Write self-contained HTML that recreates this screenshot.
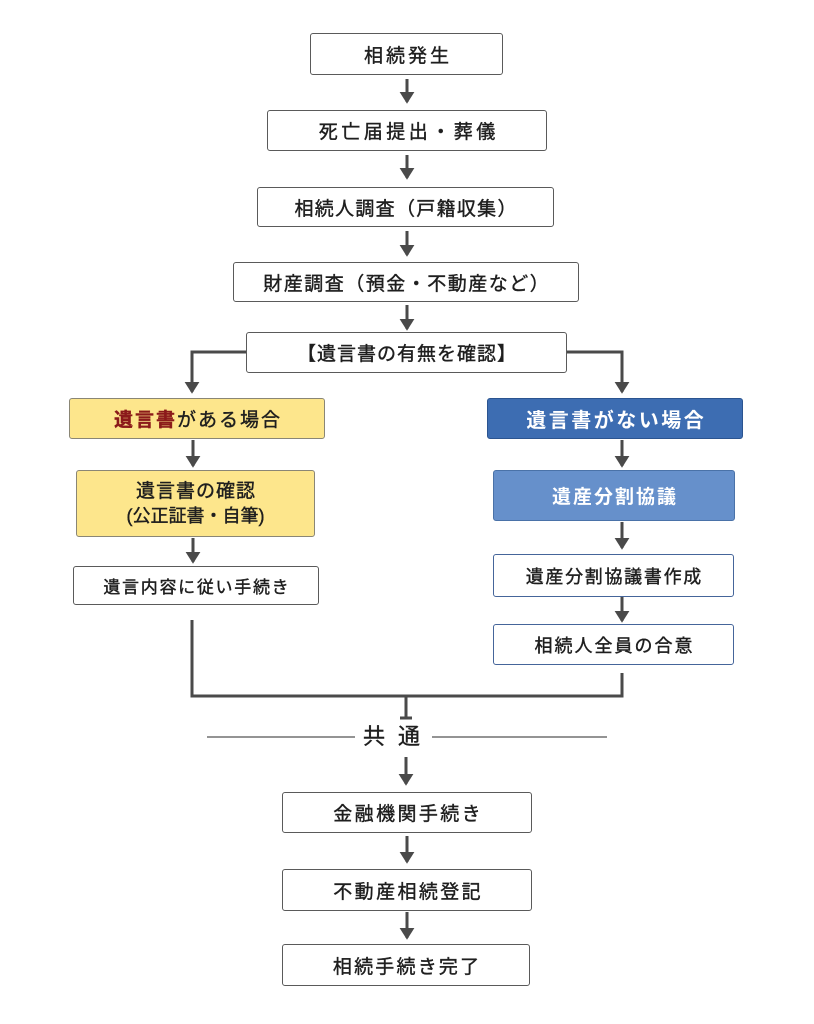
<!DOCTYPE html>
<html lang="ja">
<head>
<meta charset="UTF-8">
<style>
  html,body{margin:0;padding:0;background:#ffffff;}
  body{width:814px;height:1024px;position:relative;overflow:hidden;
       font-family:"Liberation Sans","Noto Sans CJK JP",sans-serif;color:#1e1e1e;}
  .b{position:absolute;box-sizing:border-box;border:1.6px solid #5a5a5a;border-radius:3px;
     background:#fff;display:flex;align-items:center;justify-content:center;flex-direction:column;
     white-space:nowrap;-webkit-text-stroke:0.4px currentColor;}
  .b span{display:inline-block;}
  svg{position:absolute;left:0;top:0;}
</style>
</head>
<body>
<svg width="814" height="1024" viewBox="0 0 814 1024">
  <defs>
    <marker id="ah" markerWidth="4" markerHeight="5" refX="3.4" refY="2.5" orient="auto" markerUnits="strokeWidth">
      <path d="M0,0 L4,2.5 L0,5 z" fill="#4a4a4a"/>
    </marker>
  </defs>
  <g stroke="#4a4a4a" stroke-width="3" fill="none">
    <line x1="407" y1="79" x2="407" y2="102" marker-end="url(#ah)"/>
    <line x1="407" y1="155" x2="407" y2="178" marker-end="url(#ah)"/>
    <line x1="407" y1="231" x2="407" y2="255" marker-end="url(#ah)"/>
    <line x1="407" y1="305" x2="407" y2="329" marker-end="url(#ah)"/>
    <path d="M246,352 H192 V392" marker-end="url(#ah)"/>
    <path d="M567,352 H622 V392" marker-end="url(#ah)"/>
    <line x1="193" y1="440" x2="193" y2="466" marker-end="url(#ah)"/>
    <line x1="193" y1="538" x2="193" y2="562" marker-end="url(#ah)"/>
    <line x1="622" y1="440" x2="622" y2="466" marker-end="url(#ah)"/>
    <line x1="622" y1="522" x2="622" y2="548" marker-end="url(#ah)"/>
    <line x1="622" y1="597" x2="622" y2="621" marker-end="url(#ah)"/>
    <path d="M192,620 V696 H622 V673"/>
    <line x1="406" y1="696" x2="406" y2="718"/>
    <line x1="400" y1="718" x2="412" y2="718"/>
    <line x1="406" y1="757" x2="406" y2="784" marker-end="url(#ah)"/>
    <line x1="407" y1="836" x2="407" y2="862" marker-end="url(#ah)"/>
    <line x1="407" y1="912" x2="407" y2="938" marker-end="url(#ah)"/>
  </g>
  <g stroke="#555" stroke-width="1.3">
    <line x1="207" y1="737" x2="355" y2="737"/>
    <line x1="432" y1="737" x2="607" y2="737"/>
  </g>
</svg>

<div class="b" style="left:310px;top:33px;width:193px;height:42px;font-size:19px;"><span style="letter-spacing:3px;padding-left:3px;">相続発生</span></div>
<div class="b" style="left:267px;top:110px;width:280px;height:41px;font-size:19px;"><span style="letter-spacing:3.5px;padding-left:3.5px;">死亡届提出・葬儀</span></div>
<div class="b" style="left:257px;top:187px;width:297px;height:40px;font-size:19px;"><span style="letter-spacing:1.3px;padding-left:1.3px;">相続人調査（戸籍収集）</span></div>
<div class="b" style="left:233px;top:262px;width:346px;height:40px;font-size:19px;"><span style="letter-spacing:1.5px;padding-left:1.5px;">財産調査（預金・不動産など）</span></div>
<div class="b" style="left:246px;top:332px;width:321px;height:41px;font-size:19px;"><span style="letter-spacing:1px;padding-left:1px;">【遺言書の有無を確認】</span></div>

<div class="b" style="left:69px;top:398px;width:256px;height:41px;font-size:19px;background:#fde68c;border-color:#8a8675;"><span style="letter-spacing:2px;padding-left:2px;"><b style="color:#8b1a1a;">遺言書</b>がある場合</span></div>
<div class="b" style="left:76px;top:470px;width:239px;height:67px;background:#fde68c;border-color:#8a8675;line-height:25px;">
  <span style="font-size:19px;letter-spacing:1px;padding-left:1px;">遺言書の確認</span>
  <span style="font-size:18px;">(公正証書・自筆)</span>
</div>
<div class="b" style="left:73px;top:566px;width:246px;height:39px;font-size:17px;"><span style="letter-spacing:1.7px;padding-left:1.7px;">遺言内容に従い手続き</span></div>

<div class="b" style="left:487px;top:398px;width:256px;height:41px;font-size:20px;background:#3d6db2;border-color:#2b5490;color:#fff;font-weight:bold;-webkit-text-stroke:0;"><span style="letter-spacing:2.5px;padding-left:2.5px;">遺言書がない場合</span></div>
<div class="b" style="left:493px;top:470px;width:242px;height:51px;font-size:19px;background:#6690cb;border-color:#4a72a8;color:#fff;font-weight:bold;-webkit-text-stroke:0;"><span style="letter-spacing:2px;padding-left:2px;">遺産分割協議</span></div>
<div class="b" style="left:493px;top:554px;width:241px;height:43px;font-size:18px;border-color:#45659a;"><span style="letter-spacing:1.7px;padding-left:1.7px;">遺産分割協議書作成</span></div>
<div class="b" style="left:493px;top:624px;width:241px;height:41px;font-size:18px;border-color:#45659a;"><span style="letter-spacing:2px;padding-left:2px;">相続人全員の合意</span></div>

<div style="position:absolute;left:363px;top:724px;font-size:22px;line-height:26px;letter-spacing:13px;white-space:nowrap;color:#1e1e1e;-webkit-text-stroke:0.4px #1e1e1e;">共通</div>

<div class="b" style="left:282px;top:792px;width:250px;height:41px;font-size:19px;"><span style="letter-spacing:2.4px;padding-left:2.4px;">金融機関手続き</span></div>
<div class="b" style="left:282px;top:869px;width:250px;height:42px;font-size:19px;"><span style="letter-spacing:2.4px;padding-left:2.4px;">不動産相続登記</span></div>
<div class="b" style="left:282px;top:944px;width:248px;height:42px;font-size:19px;"><span style="letter-spacing:2.2px;padding-left:2.2px;">相続手続き完了</span></div>
</body>
</html>
